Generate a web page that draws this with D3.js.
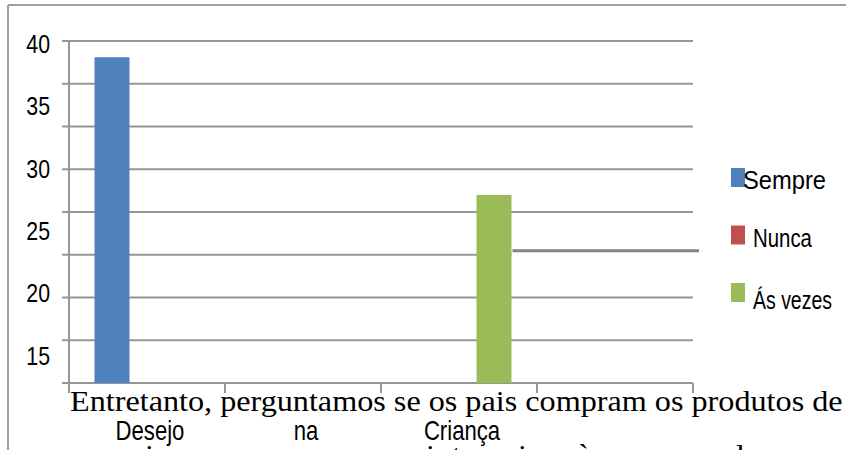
<!DOCTYPE html>
<html>
<head>
<meta charset="utf-8">
<script src="https://cdnjs.cloudflare.com/ajax/libs/d3/7.8.5/d3.min.js"></script>
<style>
  html, body { margin: 0; padding: 0; background: #fff; }
  svg { display: block; }
</style>
</head>
<body>
<svg id="chart" width="846" height="450"></svg>
<script>
// ---- data ----
const categories = ["Desejo", "na", "Criança", ""];
const seriesNames = ["Sempre", "Nunca", "Ás vezes"];
const seriesColors = ["#4F81BD", "#C0504D", "#9BBB59"];
const sempre  = [38.1, 0, 0, 0];
const nunca   = [0, 0, 0, 0];
const asVezes = [0, 0, 22, 0];
const gridValues = [0, 5, 10, 15, 20, 25, 30, 35, 40];
const tickLabels = [15, 20, 25, 30, 35, 40];
const bodyLine1 = "Entretanto, perguntamos se os pais compram os produtos de";
const bodyLine2 = [["i", 145], ["i", 426], ["t", 452], ["i", 518], ["à", 577], ["l", 736]];

// ---- setup ----
const svg = d3.select("#chart");
const W = 846, H = 450;
const plot = { left: 69, right: 693, top: 41, bottom: 383 };
const sans = "'Liberation Sans', Arial, sans-serif";
const serif = "'Liberation Serif', 'Times New Roman', serif";
const narrow = 0.82;
const gridColor = "#969696";

const x0 = d3.scaleBand().domain(categories.map((c, i) => i)).range([plot.left, plot.right]).padding(0);
const x1 = d3.scaleBand().domain(seriesNames).range([25.5, 130.5]).padding(0);
const y = d3.scaleLinear().domain([0, 40]).range([plot.bottom, plot.top]);
const yLabel = d3.scaleLinear().domain([15, 40]).range([355.5, 43.5]);

const table = categories.map((c, i) => ({ i, values: [sempre[i], nunca[i], asVezes[i]] }));

// outer frame
svg.append("line").attr("x1", 8).attr("x2", W).attr("y1", 5).attr("y2", 5)
  .attr("stroke", "#a0a0a0").attr("stroke-width", 2);
svg.append("line").attr("x1", 8).attr("x2", 8).attr("y1", 5).attr("y2", H)
  .attr("stroke", "#a0a0a0").attr("stroke-width", 2);

// gridlines
const greenRight = x0(2) + x1("Ás vezes") + x1.bandwidth();
svg.append("g").selectAll("line").data(gridValues.filter(v => v > 0)).join("line")
  .attr("x1", plot.left - 7)
  .attr("x2", d => d === 15 ? greenRight : plot.right)
  .attr("y1", d => y(d)).attr("y2", d => y(d))
  .attr("stroke", gridColor).attr("stroke-width", 2);
// displaced gridline segment to the right of the green bar
svg.append("line")
  .attr("x1", greenRight + 1).attr("x2", plot.right + 6)
  .attr("y1", y(15) - 4).attr("y2", y(15) - 4)
  .attr("stroke", "#858585").attr("stroke-width", 3);

// axes
svg.append("line").attr("x1", plot.left).attr("x2", plot.left)
  .attr("y1", plot.top).attr("y2", plot.bottom + 10)
  .attr("stroke", gridColor).attr("stroke-width", 2);
svg.append("line").attr("x1", plot.left - 7).attr("x2", plot.right)
  .attr("y1", plot.bottom).attr("y2", plot.bottom)
  .attr("stroke", gridColor).attr("stroke-width", 2);
const tickXs = categories.map((c, i) => x0(i)).concat([plot.right]);
svg.append("g").selectAll("line").data(tickXs).join("line")
  .attr("x1", d => d).attr("x2", d => d)
  .attr("y1", plot.bottom).attr("y2", plot.bottom + 10)
  .attr("stroke", gridColor).attr("stroke-width", 2);

// bars
const groups = svg.append("g").selectAll("g").data(table).join("g")
  .attr("transform", d => `translate(${x0(d.i)},0)`);
groups.selectAll("rect").data(d => d.values.map((v, k) => ({ v, k })).filter(e => e.v > 0)).join("rect")
  .attr("x", e => x1(seriesNames[e.k]))
  .attr("width", x1.bandwidth())
  .attr("y", e => y(e.v))
  .attr("height", e => y(0) - y(e.v))
  .attr("fill", e => seriesColors[e.k]);

// y tick labels (narrow sans = horizontally condensed)
svg.append("g").selectAll("text").data(tickLabels).join("text")
  .attr("transform", d => `translate(50,${yLabel(d)}) scale(${narrow},1)`)
  .attr("text-anchor", "end").attr("dominant-baseline", "central")
  .attr("font-family", sans).attr("font-size", 26).attr("fill", "#000")
  .text(d => d);

// category labels
svg.append("g").selectAll("text").data(categories).join("text")
  .attr("transform", (d, i) => `translate(${x0(i) + x0.bandwidth() / 2 + 3},440) scale(${narrow},1)`)
  .attr("text-anchor", "middle")
  .attr("font-family", sans).attr("font-size", 27).attr("fill", "#000")
  .text(d => d);

// legend
const legTextX = [12, 22, 22];
const legTextY = [21, 21, 26];
const legScale = [0.895, 0.77, 0.735];
const legItems = svg.append("g").selectAll("g").data(seriesNames).join("g")
  .attr("transform", (d, i) => `translate(731,${168 + i * 57.5})`);
legItems.append("rect").attr("width", 14).attr("height", 19)
  .attr("fill", (d, i) => seriesColors[i]);
legItems.append("text")
  .attr("transform", (d, i) => `translate(${legTextX[i]},${legTextY[i]}) scale(${legScale[i]},1)`)
  .attr("font-family", sans).attr("font-size", 26.5).attr("fill", "#000")
  .text(d => d);

// overlapping body text, fitted to its width in the reference
const body = svg.append("text")
  .attr("font-family", serif).attr("font-size", 28.5).attr("fill", "#000")
  .text(bodyLine1);
const natural = body.node().getComputedTextLength();
const sx = 773 / natural;
body.attr("transform", `translate(70,411) scale(${sx},1)`);
svg.append("g").selectAll("text").data(bodyLine2).join("text")
  .attr("transform", d => `translate(${d[1]},465) scale(${sx},1)`)
  .attr("font-family", serif).attr("font-size", 28.5).attr("fill", "#000")
  .text(d => d[0]);
</script>
</body>
</html>
